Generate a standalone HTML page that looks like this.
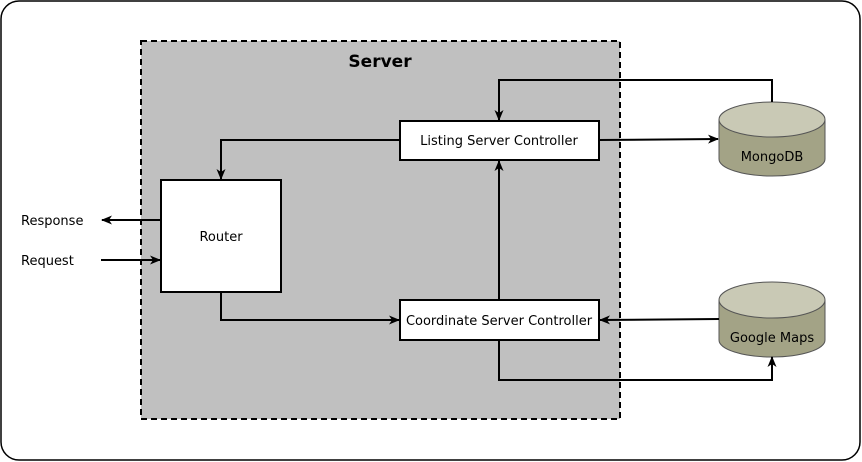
<!DOCTYPE html>
<html><head><style>body{margin:0;background:#fff}svg{display:block}text{font-family:"DejaVu Sans","Liberation Sans",sans-serif;font-size:13px}</style></head>
<body>
<svg width="862" height="462" viewBox="0 0 862 462">
<defs><marker id="a" markerWidth="11" markerHeight="11" refX="10" refY="5.5" orient="auto" markerUnits="userSpaceOnUse"><path d="M0,1 L11,5.5 L0,10 L3,5.5 Z" fill="#000"/></marker></defs>
<rect x="1" y="1" width="859" height="459" rx="18" fill="#fff" stroke="#000" stroke-width="1.5"/>
<rect x="141" y="41" width="479" height="378" fill="#c0c0c0" stroke="#000" stroke-width="2" stroke-dasharray="6,4"/>
<text x="380" y="67" text-anchor="middle" font-weight="bold" style="font-size:17px">Server</text>
<rect x="161" y="180" width="120" height="112" fill="#fff" stroke="#000" stroke-width="2"/>
<text x="221" y="241" text-anchor="middle">Router</text>
<rect x="400" y="121" width="199" height="39" fill="#fff" stroke="#000" stroke-width="2"/>
<text x="499" y="145" text-anchor="middle">Listing Server Controller</text>
<rect x="400" y="300" width="199" height="40" fill="#fff" stroke="#000" stroke-width="2"/>
<text x="499" y="325" text-anchor="middle">Coordinate Server Controller</text>
<g fill="#a3a386" stroke="#555" stroke-width="1">
<path d="M719,119.5 V159 A53,17 0 0 0 825,159 V119.5"/>
<ellipse cx="772" cy="119.5" rx="53" ry="17.5" fill="#c9c9b5"/>
<path d="M719,300 V340 A53,17 0 0 0 825,340 V300"/>
<ellipse cx="772" cy="300" rx="53" ry="18" fill="#c9c9b5"/>
</g>
<text x="772" y="161" text-anchor="middle">MongoDB</text>
<text x="772" y="342" text-anchor="middle">Google Maps</text>
<g stroke="#000" stroke-width="2" fill="none">
<path d="M161,220 H102" marker-end="url(#a)"/>
<path d="M101,260 H160" marker-end="url(#a)"/>
<path d="M400,140 H221 V179" marker-end="url(#a)"/>
<path d="M221,292 V320 H399" marker-end="url(#a)"/>
<path d="M499,300 V161" marker-end="url(#a)"/>
<path d="M772,102 V80 H499 V120" marker-end="url(#a)"/>
<path d="M599,140 L718,139" marker-end="url(#a)"/>
<path d="M719,319 L600,320" marker-end="url(#a)"/>
<path d="M499,340 V380 H772 V357" marker-end="url(#a)"/>
</g>
<text x="21" y="225">Response</text>
<text x="21" y="265">Request</text>
</svg>
</body></html>
